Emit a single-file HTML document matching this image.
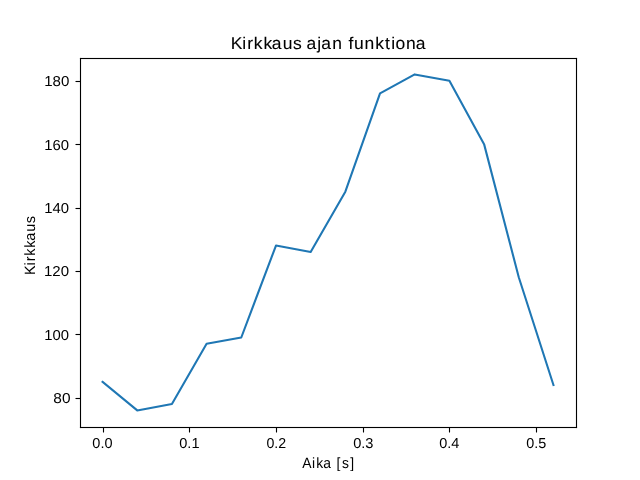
<!DOCTYPE html>
<html><head><meta charset="utf-8"><title>Kirkkaus ajan funktiona</title>
<style>
html,body{margin:0;padding:0;background:#fff;width:640px;height:480px;overflow:hidden}
svg{display:block;will-change:transform}
text{font-family:"Liberation Sans",sans-serif;fill:#000;text-rendering:geometricPrecision}
</style></head><body>
<svg width="640" height="480" viewBox="0 0 640 480">
<rect width="640" height="480" fill="#fff"/>
<polyline points="102.545,381.872 137.231,410.400 171.916,404.060 206.601,343.834 241.287,337.494 275.972,245.570 310.657,251.909 345.343,191.683 380.028,93.419 414.713,74.400 449.399,80.740 484.084,144.136 518.769,277.268 553.455,385.042" fill="none" stroke="#1f77b4" stroke-width="2.0833" stroke-linejoin="round" stroke-linecap="square"/>
<g fill="#000">
<rect x="79.944" y="57.944" width="1.111" height="370.111"/>
<rect x="575.944" y="57.944" width="1.111" height="370.111"/>
<rect x="79.944" y="426.944" width="497.111" height="1.111"/>
<rect x="79.944" y="57.944" width="497.111" height="1.111"/>
</g>
<g stroke="#000" stroke-width="1.1111" fill="none">
<line x1="103.5" y1="427.5" x2="103.5" y2="432.5"/>
<line x1="189.5" y1="427.5" x2="189.5" y2="432.5"/>
<line x1="276.5" y1="427.5" x2="276.5" y2="432.5"/>
<line x1="363.5" y1="427.5" x2="363.5" y2="432.5"/>
<line x1="449.5" y1="427.5" x2="449.5" y2="432.5"/>
<line x1="536.5" y1="427.5" x2="536.5" y2="432.5"/>
<line x1="80.5" y1="398.5" x2="75.5" y2="398.5"/>
<line x1="80.5" y1="334.5" x2="75.5" y2="334.5"/>
<line x1="80.5" y1="271.5" x2="75.5" y2="271.5"/>
<line x1="80.5" y1="208.5" x2="75.5" y2="208.5"/>
<line x1="80.5" y1="144.5" x2="75.5" y2="144.5"/>
<line x1="80.5" y1="81.5" x2="75.5" y2="81.5"/>
</g>
<g>
<text x="102.41" y="448.00" text-anchor="middle" font-size="14.40" textLength="20.19" lengthAdjust="spacingAndGlyphs">0.0</text>
<text x="189.40" y="448.00" text-anchor="middle" font-size="14.40" textLength="20.26" lengthAdjust="spacingAndGlyphs">0.1</text>
<text x="276.26" y="448.00" text-anchor="middle" font-size="14.40" textLength="19.73" lengthAdjust="spacingAndGlyphs">0.2</text>
<text x="363.35" y="448.00" text-anchor="middle" font-size="14.40" textLength="20.33" lengthAdjust="spacingAndGlyphs">0.3</text>
<text x="449.32" y="448.00" text-anchor="middle" font-size="14.40" textLength="20.13" lengthAdjust="spacingAndGlyphs">0.4</text>
<text x="536.23" y="448.00" text-anchor="middle" font-size="14.40" textLength="20.01" lengthAdjust="spacingAndGlyphs">0.5</text>
<text x="61.97" y="403.00" text-anchor="middle" font-size="14.40" textLength="17.20" lengthAdjust="spacingAndGlyphs">80</text>
<text x="56.64" y="340.00" text-anchor="middle" font-size="14.40" textLength="24.77" lengthAdjust="spacingAndGlyphs">100</text>
<text x="56.52" y="276.00" text-anchor="middle" font-size="14.40" textLength="25.07" lengthAdjust="spacingAndGlyphs">120</text>
<text x="56.63" y="213.00" text-anchor="middle" font-size="14.40" textLength="24.86" lengthAdjust="spacingAndGlyphs">140</text>
<text x="56.71" y="150.00" text-anchor="middle" font-size="14.40" textLength="24.88" lengthAdjust="spacingAndGlyphs">160</text>
<text x="56.78" y="86.00" text-anchor="middle" font-size="14.40" textLength="25.17" lengthAdjust="spacingAndGlyphs">180</text>
<text transform="translate(230.85,49.00) scale(1.0283,1)" x="0.01 10.97 15.91 22.31 31.67 39.85 50.50 60.46 68.96 73.57 84.08 87.96 98.69 108.14 114.33 119.69 130.01 140.38 149.95 155.89 160.24 170.34 179.77" y="0" font-size="17.00" stroke="#000" stroke-width="0.08">Kirkkaus ajan funktiona</text>
<text transform="translate(302.20,468.00) scale(0.9339,1)" x="0.11 10.58 15.01 22.49 30.78 36.73 42.50 51.38" y="0" font-size="14.90">Aika [s]</text>
<text transform="translate(35.00,275.00) rotate(-90) scale(0.9744,1)" x="0.03 9.67 14.02 19.66 27.91 35.07 44.45 53.22" y="0" font-size="14.90">Kirkkaus</text>
</g>
</svg>
</body></html>
